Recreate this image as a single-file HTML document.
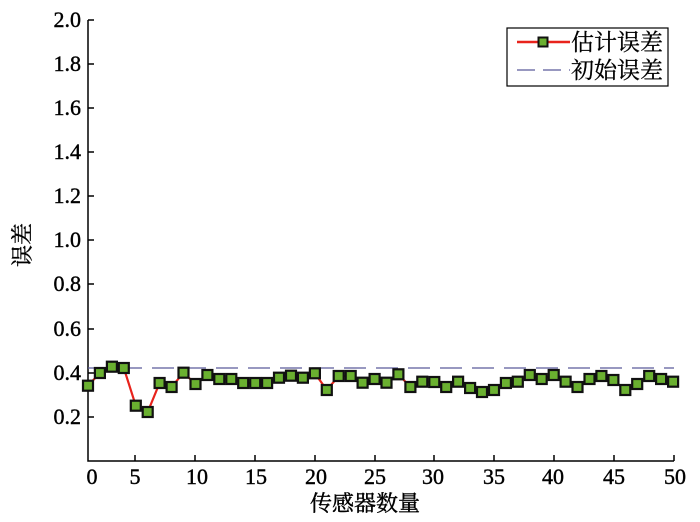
<!DOCTYPE html><html><head><meta charset="utf-8"><style>body{margin:0;background:#fff}svg{display:block}</style></head><body>
<svg width="700" height="522" xmlns="http://www.w3.org/2000/svg" font-family="'Liberation Serif','Noto Serif CJK SC',serif">
<g stroke="#000" stroke-width="1.5" fill="none">
<path d="M88,20 V461 H674"/>
<path d="M88,417h6M88,373h6M88,329h6M88,284h6M88,240h6M88,196h6M88,152h6M88,108h6M88,64h6M88,20h6"/>
<path d="M135,461v-6M195,461v-6M255,461v-6M315,461v-6M375,461v-6M434,461v-6M494,461v-6M554,461v-6M614,461v-6M674,461v-6"/>
</g>
<g font-size="22" text-anchor="end" fill="#000" stroke="#000" stroke-width="0.4">
<text x="81" y="424">0.2</text><text x="81" y="380">0.4</text><text x="81" y="336">0.6</text><text x="81" y="291">0.8</text><text x="81" y="247">1.0</text><text x="81" y="203">1.2</text><text x="81" y="159">1.4</text><text x="81" y="115">1.6</text><text x="81" y="71">1.8</text><text x="81" y="27">2.0</text>
</g>
<g font-size="22" text-anchor="middle" fill="#000" stroke="#000" stroke-width="0.4">
<text x="92" y="484">0</text><text x="135" y="484">5</text><text x="197" y="484">10</text><text x="256" y="484">15</text><text x="316" y="484">20</text><text x="375" y="484">25</text><text x="433" y="484">30</text><text x="494" y="484">35</text><text x="553" y="484">40</text><text x="614" y="484">45</text><text x="675" y="484">50</text>
<text x="365" y="511" font-size="22">传感器数量</text>
<text transform="translate(30,245) rotate(-90)" font-size="22">误差</text>
</g>
<line x1="88" y1="368" x2="674" y2="368" stroke="#5a5a9a" stroke-width="1.3" stroke-dasharray="22,10"/>
<polyline fill="none" stroke="#e8231c" stroke-width="2.2" points="88,385.7 99.9,373 111.9,366.7 123.8,368 135.8,405.7 147.7,412 159.6,383 171.6,387 183.5,372.7 195.5,384 207.4,375 219.3,379 231.3,379 243.2,383 255.2,383 267.1,383 279,377.7 291,375.7 302.9,377.7 314.9,373.3 326.8,390 338.7,376 350.7,376 362.6,382.7 374.6,379 386.5,382.7 398.4,374.3 410.4,387 422.3,381.7 434.3,382 446.2,387 458.1,381.7 470.1,388 482,392 494,390 505.9,383 517.8,381.7 529.8,375 541.7,379 553.7,375 565.6,381.7 577.5,387 589.5,379 601.4,376 613.4,380 625.3,390 637.2,384 649.2,376 661.1,379 673.1,381.7"/>
<g fill="#6ab030" stroke="#111" stroke-width="2.2">
<rect x="83" y="380.7" width="10" height="10"/><rect x="94.9" y="368" width="10" height="10"/><rect x="106.9" y="361.7" width="10" height="10"/><rect x="118.8" y="363" width="10" height="10"/><rect x="130.8" y="400.7" width="10" height="10"/><rect x="142.7" y="407" width="10" height="10"/><rect x="154.6" y="378" width="10" height="10"/><rect x="166.6" y="382" width="10" height="10"/><rect x="178.5" y="367.7" width="10" height="10"/><rect x="190.5" y="379" width="10" height="10"/><rect x="202.4" y="370" width="10" height="10"/><rect x="214.3" y="374" width="10" height="10"/><rect x="226.3" y="374" width="10" height="10"/><rect x="238.2" y="378" width="10" height="10"/><rect x="250.2" y="378" width="10" height="10"/><rect x="262.1" y="378" width="10" height="10"/><rect x="274" y="372.7" width="10" height="10"/><rect x="286" y="370.7" width="10" height="10"/><rect x="297.9" y="372.7" width="10" height="10"/><rect x="309.9" y="368.3" width="10" height="10"/><rect x="321.8" y="385" width="10" height="10"/><rect x="333.7" y="371" width="10" height="10"/><rect x="345.7" y="371" width="10" height="10"/><rect x="357.6" y="377.7" width="10" height="10"/><rect x="369.6" y="374" width="10" height="10"/><rect x="381.5" y="377.7" width="10" height="10"/><rect x="393.4" y="369.3" width="10" height="10"/><rect x="405.4" y="382" width="10" height="10"/><rect x="417.3" y="376.7" width="10" height="10"/><rect x="429.3" y="377" width="10" height="10"/><rect x="441.2" y="382" width="10" height="10"/><rect x="453.1" y="376.7" width="10" height="10"/><rect x="465.1" y="383" width="10" height="10"/><rect x="477" y="387" width="10" height="10"/><rect x="489" y="385" width="10" height="10"/><rect x="500.9" y="378" width="10" height="10"/><rect x="512.8" y="376.7" width="10" height="10"/><rect x="524.8" y="370" width="10" height="10"/><rect x="536.7" y="374" width="10" height="10"/><rect x="548.7" y="370" width="10" height="10"/><rect x="560.6" y="376.7" width="10" height="10"/><rect x="572.5" y="382" width="10" height="10"/><rect x="584.5" y="374" width="10" height="10"/><rect x="596.4" y="371" width="10" height="10"/><rect x="608.4" y="375" width="10" height="10"/><rect x="620.3" y="385" width="10" height="10"/><rect x="632.2" y="379" width="10" height="10"/><rect x="644.2" y="371" width="10" height="10"/><rect x="656.1" y="374" width="10" height="10"/><rect x="668.1" y="376.7" width="10" height="10"/>
</g>
<rect x="507" y="28" width="161" height="58" fill="#fff" stroke="#000" stroke-width="1.2"/>
<line x1="517" y1="42" x2="570" y2="42" stroke="#e8231c" stroke-width="2.5"/>
<rect x="538.5" y="37.5" width="9" height="9" fill="#6ab030" stroke="#111" stroke-width="2"/>
<line x1="517" y1="70" x2="570" y2="70" stroke="#5a5a9a" stroke-width="1.3" stroke-dasharray="18,8"/>
<g font-size="23" fill="#000" stroke="#000" stroke-width="0.3">
<text x="571" y="50">估计误差</text>
<text x="571" y="78">初始误差</text>
</g>
</svg></body></html>
